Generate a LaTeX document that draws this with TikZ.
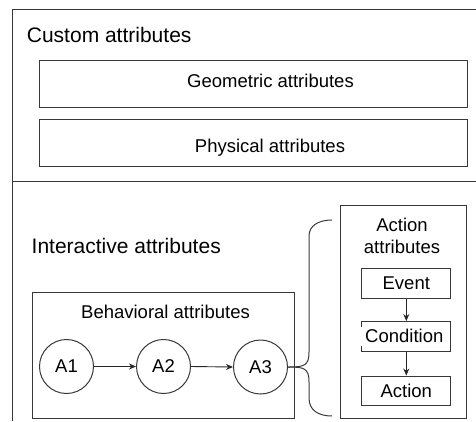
\documentclass[tikz,border=0pt]{standalone}
\usepackage{fontspec}
\setmainfont{Liberation Sans}
\usetikzlibrary{arrows.meta}
\begin{document}
\begin{tikzpicture}[x=1pt,y=-1pt,
  frame/.style={draw=black!78, line width=1pt},
  box/.style={frame, inner sep=0pt, anchor=north west},
  lbl/.style={inner sep=0pt, font=\fontsize{18.5}{22}\selectfont},
  head/.style={inner sep=0pt, anchor=base west, font=\fontsize{21}{25}\selectfont},
  state/.style={frame, circle, minimum size=54pt, inner sep=0pt, font=\fontsize{18.5}{22}\selectfont},
  step box/.style={frame, minimum width=89pt, minimum height=29.5pt, inner sep=0pt, font=\fontsize{18.5}{22}\selectfont},
  flow/.style={draw=black!85, line width=0.9pt, -{Stealth[length=7pt,width=6pt]}}
]
\path[use as bounding box] (0,0) rectangle (476,421);

% outer frame, open to the right and bottom, split in two sections
\draw[frame] (476,9) -- (12,9) -- (12,421);
\draw[frame] (12,181) -- (476,181);

% custom attributes section
\node[head] (custom) at (26.7,42.3) {Custom attributes};
\node[box, minimum width=427.7pt, minimum height=47pt] (geo) at (39,59.7) {};
\node[lbl, anchor=base] (geotxt) at (270.5,87.3) {Geometric attributes};
\node[box, minimum width=427.7pt, minimum height=47pt] (phys) at (39,119) {};
\node[lbl, anchor=base] (phystxt) at (270,152.3) {Physical attributes};

% interactive attributes section
\node[head] (inter) at (31.5,253.3) {Interactive attributes};

% behavioral attributes
\node[box, minimum width=262pt, minimum height=126pt] (behav) at (32,292) {};
\node[lbl, anchor=base] (behavtxt) at (165.5,318.3) {Behavioral attributes};
\node[state] (a1) at (66.5,366.5) {A1};
\node[state] (a2) at (163.5,366.5) {A2};
\node[state] (a3) at (260.5,367) {A3};
\draw[flow] (a1.east) -- (a2.west);
\draw[flow] (a2.east) -- (a3.west);

% action attributes
\node[box, minimum width=126pt, minimum height=212.7pt] (actbox) at (340,205) {};
\node[lbl, anchor=north, align=center] (acttxt) at (402,217.5) {Action\\attributes};
\node[step box] (event) at (406.3,283.3) {Event};
\node[step box] (cond) at (406.3,336.3) {};
\node[lbl, fill=white, inner xsep=4.5pt, inner ysep=3pt] (condtxt) at (404.3,336.3) {Condition};
\node[step box] (act) at (406.3,390.8) {Action};
\draw[flow] (event.south) -- (cond.north);
\draw[flow] (cond.south) -- (act.north);

% curly bracket from A3 to the action attributes
\coordinate (btop) at (332,220);
\coordinate (bbot) at (332,416);
\draw[frame] (a3.east) .. controls +(16,0) and +(0,14) .. (309,352)
  -- (309,236) .. controls (309,226) and (318,220) .. (btop);
\draw[frame] (a3.east) .. controls +(16,0) and +(0,-14) .. (309,382)
  -- (309,398) .. controls (309,410) and (318,416) .. (bbot);
\end{tikzpicture}
\end{document}
